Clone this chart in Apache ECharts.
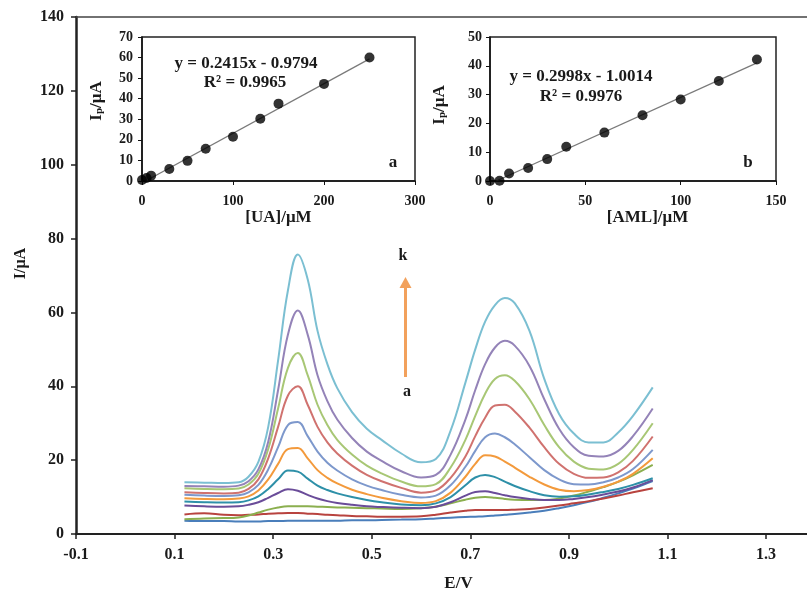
<!DOCTYPE html>
<html>
<head>
<meta charset="utf-8">
<script src="https://cdn.jsdelivr.net/npm/echarts@6/dist/echarts.min.js"></script>
<style>html,body{margin:0;padding:0;background:#fff}#c{width:807px;height:591px}</style>
</head>
<body>
<div id="c"></div>
<script>
// ---- main voltammograms: potential (V) and current (µA) for curves a..k ----
const E  = [0.12,0.16,0.20,0.23,0.25,0.27,0.29,0.31,0.33,0.35,0.37,0.39,0.41,0.43,0.46,0.49,0.52,0.56,0.60,0.63,0.66,0.69,0.71,0.73,0.75,0.77,0.79,0.82,0.85,0.88,0.91,0.94,0.97,1.00,1.03,1.07];
const Ia = [3.6,3.5,3.5,3.4,3.4,3.4,3.5,3.5,3.6,3.6,3.6,3.6,3.6,3.6,3.7,3.7,3.8,3.9,4.0,4.2,4.4,4.6,4.7,4.8,5.0,5.2,5.4,5.8,6.3,7.0,7.8,8.7,9.8,11.0,12.3,14.3];
const Ib = [5.3,5.6,5.2,5.1,5.2,5.3,5.5,5.6,5.7,5.7,5.5,5.4,5.2,5.1,4.9,4.8,4.7,4.7,4.8,5.2,5.8,6.3,6.5,6.5,6.5,6.5,6.6,6.8,7.2,7.7,8.3,8.9,9.6,10.4,11.3,12.4];
const Ic = [4.0,4.2,4.3,4.5,5.0,5.8,6.6,7.2,7.5,7.5,7.5,7.4,7.3,7.2,7.1,7.0,6.9,6.8,7.0,7.4,8.3,9.3,9.8,10.0,9.8,9.5,9.3,9.2,9.2,9.6,10.4,11.5,12.7,14.1,15.9,18.7];
const Id = [7.7,7.5,7.4,7.5,7.9,8.6,9.8,11.1,12.1,11.7,10.6,9.6,8.9,8.4,7.9,7.5,7.3,7.1,7.0,7.4,8.6,10.4,11.4,11.6,11.1,10.5,10.0,9.5,9.2,9.2,9.5,10.0,10.7,11.5,12.6,14.6];
const Ie = [8.8,8.6,8.5,8.6,9.1,10.2,12.2,14.8,17.2,16.9,15.0,13.1,11.9,11.0,10.0,9.2,8.6,8.0,7.8,8.3,10.0,13.2,15.3,16.0,15.4,14.2,13.0,11.6,10.5,10.1,10.2,10.7,11.4,12.2,13.3,15.1];
const If = [9.7,9.5,9.4,9.6,10.2,11.8,14.8,19.0,23.0,23.3,20.5,17.3,15.2,13.7,12.0,10.8,9.8,8.9,8.4,8.9,11.2,15.5,19.0,21.3,21.0,19.6,18.0,15.5,13.4,12.0,11.6,11.9,12.8,14.2,16.3,20.5];
const Ig = [10.6,10.4,10.3,10.5,11.3,13.3,17.5,23.5,29.5,30.3,26.5,22.3,19.3,17.2,14.8,13.1,11.9,10.6,9.9,10.4,13.2,18.2,22.5,26.2,27.2,26.2,24.3,20.8,17.3,14.8,13.5,13.4,14.0,15.3,17.6,22.8];
const Ih = [11.3,11.1,11.0,11.2,12.2,14.8,20.5,29.0,37.5,40.0,35.0,29.0,24.8,21.8,18.5,16.0,14.3,12.5,11.2,11.8,15.2,21.0,26.5,31.5,34.8,35.0,33.2,28.8,23.5,19.0,16.3,15.2,15.3,16.7,19.8,26.4];
const Ii = [12.4,12.2,12.1,12.3,13.4,16.3,23.0,34.0,45.0,49.0,43.0,35.0,29.5,25.5,21.5,18.5,16.4,14.2,12.9,13.5,18.0,25.5,32.0,38.0,42.0,43.0,41.5,36.5,29.5,23.5,19.6,17.7,17.5,19.0,22.8,30.0];
const Ij = [13.0,12.9,12.8,13.1,14.3,17.5,25.0,39.0,54.0,60.5,54.0,43.0,36.0,31.0,26.0,22.3,19.8,17.0,15.3,16.0,21.5,31.0,39.0,46.0,50.5,52.3,51.0,45.5,36.5,28.5,23.5,21.2,21.0,22.5,26.5,34.0];
const Ik = [14.0,13.9,13.8,14.0,15.5,19.5,29.0,47.0,66.0,75.7,69.0,55.0,46.0,39.5,33.0,28.5,25.5,21.8,19.4,20.3,28.0,41.0,50.0,57.5,62.0,63.9,62.5,55.0,42.0,32.5,27.2,24.8,24.8,27.5,32.0,39.7];
const curveNames = ['a','b','c','d','e','f','g','h','i','j','k'];

// ---- inset a: uric acid calibration ----
const UA_conc = [0,5,10,30,50,70,100,130,150,200,250];
const UA_Ip   = [0.5,1.5,2.6,5.8,9.8,15.7,21.5,30.3,37.6,47.2,60.0];
const UA_fit  = [[4,0],[250,59.4]];
// ---- inset b: amlodipine calibration ----
const AML_conc = [0,5,10,20,30,40,60,80,100,120,140];
const AML_Ip   = [0.0,0.1,2.6,4.5,7.6,11.9,16.8,22.8,28.3,34.7,42.2];
const AML_fit  = [[3.3,0],[140,41.0]];

// ---- axis ranges / ticks ----
const mainX = {min:-0.1, max:1.383, step:0.2};
const mainY = {min:0, max:140, step:20};
const insetAX = {min:0, max:300, step:100}, insetAY = {min:0, max:70, step:10};
const insetBX = {min:0, max:150, step:50},  insetBY = {min:0, max:50, step:10};

// ---- styles ----
const curveColors = ['#4A7EBB','#B8433F','#8BAF4F','#6A4C99','#2E90A8','#F39A3C','#7D98CC','#D0726F','#A8C775','#9483B8','#7BBFD2'];
const FONT = '"Liberation Serif","Times New Roman",serif';
const txt = '#1a1a1a';

const allI = [Ia,Ib,Ic,Id,Ie,If,Ig,Ih,Ii,Ij,Ik];
const series = allI.map((arr,i)=>({
  name: curveNames[i], type:'line', xAxisIndex:0, yAxisIndex:0,
  data: E.map((e,j)=>[e,arr[j]]), smooth:0.4, showSymbol:false,
  lineStyle:{color:curveColors[i], width:2}, itemStyle:{color:curveColors[i]}, z:2+i, silent:true
}));
series.push(
  {type:'line', xAxisIndex:2, yAxisIndex:1, data:UA_fit, showSymbol:false, lineStyle:{color:'#7a7a7a',width:1.3}, silent:true, z:20},
  {type:'scatter', xAxisIndex:2, yAxisIndex:1, data:UA_conc.map((c,i)=>[c,UA_Ip[i]]), symbolSize:10, itemStyle:{color:'#000'}, silent:true, z:21},
  {type:'line', xAxisIndex:3, yAxisIndex:2, data:AML_fit, showSymbol:false, lineStyle:{color:'#7a7a7a',width:1.3}, silent:true, z:20},
  {type:'scatter', xAxisIndex:3, yAxisIndex:2, data:AML_conc.map((c,i)=>[c,AML_Ip[i]]), symbolSize:10, itemStyle:{color:'#000'}, silent:true, z:21}
);

const lbl = (size,margin,fmt)=>({fontFamily:FONT, fontWeight:'bold', fontSize:size, color:txt, margin:margin, formatter:fmt});
const richIp = {a:{fontFamily:FONT,fontWeight:'bold',fontSize:17,color:txt}, s:{fontFamily:FONT,fontWeight:'bold',fontSize:11,color:txt,verticalAlign:'bottom',padding:[6,0,0,0]}};

const option = {
  animation:false,
  backgroundColor:'#fff',
  grid:[
    {left:76, top:17, right:0, bottom:57, show:false, containLabel:false, outerBoundsMode:'none'},
    {left:142, top:37, width:273, height:144, show:true, borderColor:'#222', borderWidth:1.5, backgroundColor:'#fff', containLabel:false, outerBoundsMode:'none'},
    {left:490, top:37, width:286, height:144, show:true, borderColor:'#222', borderWidth:1.5, backgroundColor:'#fff', containLabel:false, outerBoundsMode:'none'}
  ],
  xAxis:[
    {gridIndex:0, type:'value', position:'bottom', min:mainX.min, max:mainX.max, interval:mainX.step,
     axisLine:{onZero:false, lineStyle:{color:'#222',width:2}}, axisTick:{length:5, lineStyle:{color:'#222',width:1.5}},
     axisLabel:Object.assign(lbl(16,13,v=>v.toFixed(1)),{showMaxLabel:false}), splitLine:{show:false},
     name:'E/V', nameLocation:'middle', nameGap:41, nameTextStyle:{fontFamily:FONT,fontWeight:'bold',fontSize:17,color:txt,padding:[0,0,0,34]}},
    {gridIndex:0, type:'value', position:'top', min:mainX.min, max:mainX.max, interval:mainX.step,
     axisLine:{onZero:false, lineStyle:{color:'#444',width:1.5}}, axisTick:{show:false}, axisLabel:{show:false}, splitLine:{show:false}},
    {gridIndex:1, type:'value', min:insetAX.min, max:insetAX.max, interval:insetAX.step,
     axisLine:{lineStyle:{color:'#111',width:1.5}}, axisTick:{length:4,lineStyle:{color:'#111'}},
     axisLabel:lbl(14,13), splitLine:{show:false},
     name:'[UA]/μM', nameLocation:'middle', nameGap:26, nameTextStyle:{fontFamily:FONT,fontWeight:'bold',fontSize:17,color:txt}},
    {gridIndex:2, type:'value', min:insetBX.min, max:insetBX.max, interval:insetBX.step,
     axisLine:{lineStyle:{color:'#111',width:1.5}}, axisTick:{length:4,lineStyle:{color:'#111'}},
     axisLabel:lbl(14,13), splitLine:{show:false},
     name:'[AML]/μM', nameLocation:'middle', nameGap:24, nameTextStyle:{fontFamily:FONT,fontWeight:'bold',fontSize:17,color:txt,padding:[0,0,0,29]}}
  ],
  yAxis:[
    {gridIndex:0, type:'value', min:mainY.min, max:mainY.max, interval:mainY.step,
     axisLine:{show:true, onZero:false, lineStyle:{color:'#222',width:2.5}}, axisTick:{show:true,length:5,lineStyle:{color:'#222',width:1.5}},
     axisLabel:lbl(16,12), splitLine:{show:false},
     name:'I/μA', nameLocation:'middle', nameRotate:90, nameGap:47,
     nameTextStyle:{fontFamily:FONT,fontWeight:'bold',fontSize:16,color:txt,padding:[0,0,0,24]}},
    {gridIndex:1, type:'value', min:insetAY.min, max:insetAY.max, interval:insetAY.step,
     axisLine:{show:true,onZero:false,lineStyle:{color:'#111',width:1.5}}, axisTick:{show:true,length:4,lineStyle:{color:'#111'}},
     axisLabel:lbl(14,9), splitLine:{show:false},
     name:'{a|I}{s|p}{a|/μA}', nameLocation:'middle', nameRotate:90, nameGap:37,
     nameTextStyle:{rich:richIp, padding:[0,0,0,16]}},
    {gridIndex:2, type:'value', min:insetBY.min, max:insetBY.max, interval:insetBY.step,
     axisLine:{show:true,onZero:false,lineStyle:{color:'#111',width:1.5}}, axisTick:{show:true,length:4,lineStyle:{color:'#111'}},
     axisLabel:lbl(14,8), splitLine:{show:false},
     name:'{a|I}{s|p}{a|/μA}', nameLocation:'middle', nameRotate:90, nameGap:42,
     nameTextStyle:{rich:richIp, padding:[0,0,0,8]}}
  ],
  series:series,
  graphic:[
    {type:'text', x:246, y:64, z:20, style:{text:'y = 0.2415x - 0.9794', font:'bold 17px '+FONT, fill:txt, align:'center', verticalAlign:'middle'}},
    {type:'text', x:245, y:83, z:20, style:{text:'R² = 0.9965', font:'bold 17px '+FONT, fill:txt, align:'center', verticalAlign:'middle'}},
    {type:'text', x:581, y:77, z:20, style:{text:'y = 0.2998x - 1.0014', font:'bold 17px '+FONT, fill:txt, align:'center', verticalAlign:'middle'}},
    {type:'text', x:581, y:97, z:20, style:{text:'R² = 0.9976', font:'bold 17px '+FONT, fill:txt, align:'center', verticalAlign:'middle'}},
    {type:'text', x:393, y:163, z:20, style:{text:'a', font:'bold 17px '+FONT, fill:txt, align:'center', verticalAlign:'middle'}},
    {type:'text', x:748, y:163, z:20, style:{text:'b', font:'bold 17px '+FONT, fill:txt, align:'center', verticalAlign:'middle'}},
    {type:'text', x:403, y:256, z:20, style:{text:'k', font:'bold 16px '+FONT, fill:txt, align:'center', verticalAlign:'middle'}},
    {type:'text', x:407, y:392, z:20, style:{text:'a', font:'bold 16px '+FONT, fill:txt, align:'center', verticalAlign:'middle'}},
    {type:'line', z:20, shape:{x1:405.5,y1:377,x2:405.5,y2:286}, style:{stroke:'#F2A15C', lineWidth:3}},
    {type:'polygon', z:20, shape:{points:[[399.5,288],[411.5,288],[405.5,277]]}, style:{fill:'#F2A15C'}}
  ]
};
const chart = echarts.init(document.getElementById('c'), null, {renderer:'canvas'});
chart.setOption(option);
</script>
</body>
</html>
